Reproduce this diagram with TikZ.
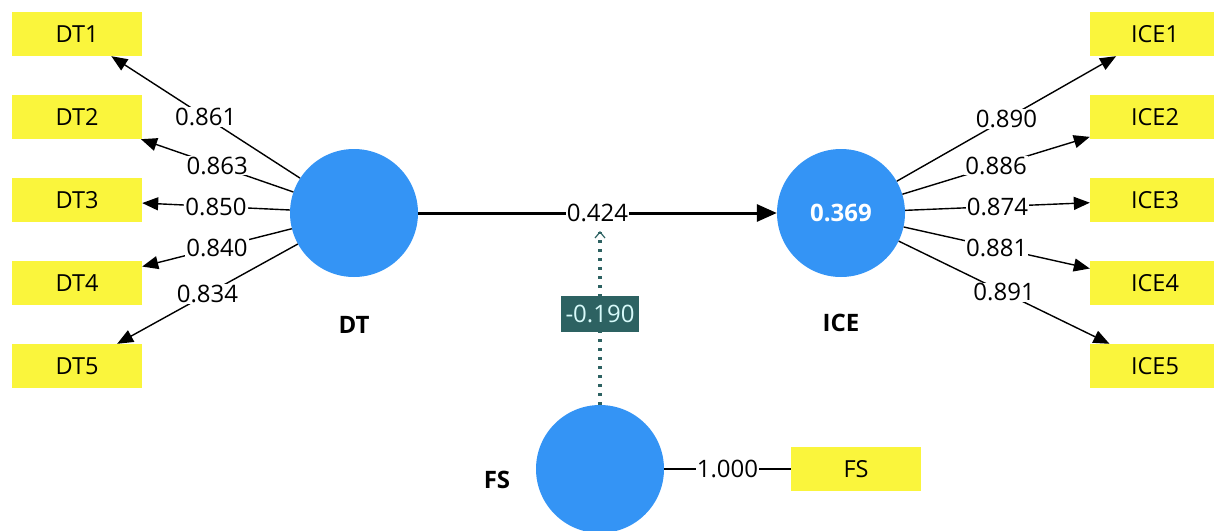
\documentclass[tikz,border=0pt]{standalone}
\usepackage{fontspec}
\setmainfont{Open Sans}
\usetikzlibrary{arrows.meta}
\definecolor{indyellow}{RGB}{250,245,60}
\definecolor{lvblue}{RGB}{52,148,245}
\definecolor{modteal}{RGB}{45,98,98}
\definecolor{modtext}{RGB}{215,250,250}
\begin{document}
\begin{tikzpicture}[x=1pt,y=-1pt,
  ind/.style={fill=indyellow, draw=none, minimum width=130pt, minimum height=44pt, inner sep=0pt, font=\fontsize{23.5}{27}\selectfont},
  lv/.style={circle, fill=lvblue, draw=none, minimum size=128pt, inner sep=0pt},
  lvname/.style={font=\fontsize{24}{28}\selectfont\bfseries},
  load/.style={-{Triangle[length=16pt,width=13pt]}, line width=1.4pt},
  mainpath/.style={-{Triangle[length=20pt,width=17pt]}, line width=3pt},
  plainload/.style={line width=1.4pt},
  val/.style={fill=white, inner sep=1pt, font=\fontsize{24}{28}\selectfont},
  modline/.style={draw=modteal, line width=3.5pt, dash pattern=on 3pt off 6pt},
  modtip/.style={draw=modteal, line width=1.2pt},
  modval/.style={fill=modteal, text=modtext, minimum width=78pt, minimum height=36pt, inner sep=0pt, font=\fontsize{24}{28}\selectfont}
]
\useasboundingbox (0,0) rectangle (1214,530);

% latent variables
\node[lv] (DT) at (354,213) {};
\node[lv] (ICE) at (841,213) {\textcolor{white}{\bfseries\fontsize{24}{28}\selectfont 0.369}};
\node[lv] (FSlv) at (600,469) {};
\node[lvname] (DTlab) at (354,325) {DT};
\node[lvname] (ICElab) at (841,323) {ICE};
\node[lvname] (FSlab) at (497,480) {FS};

% indicators
\node[ind] (DT1) at (77,34) {DT1};
\node[ind] (DT2) at (77,117) {DT2};
\node[ind] (DT3) at (77,200) {DT3};
\node[ind] (DT4) at (77,283) {DT4};
\node[ind] (DT5) at (77,366) {DT5};
\node[ind] (ICE1) at (1155,34) {ICE1};
\node[ind] (ICE2) at (1155,117) {ICE2};
\node[ind] (ICE3) at (1155,200) {ICE3};
\node[ind] (ICE4) at (1155,283) {ICE4};
\node[ind] (ICE5) at (1155,366) {ICE5};
\node[ind] (FS) at (856,469) {FS};

% loadings
\draw[load] (DT) -- (DT1) node[val,pos=0.5] {0.861};
\draw[load] (DT) -- (DT2) node[val,pos=0.5] {0.863};
\draw[load] (DT) -- (DT3) node[val,pos=0.5] {0.850};
\draw[load] (DT) -- (DT4) node[val,pos=0.5] {0.840};
\draw[load] (DT) -- (DT5) node[val,pos=0.5] {0.834};
\draw[load] (ICE) -- (ICE1) node[val,pos=0.5] {0.890};
\draw[load] (ICE) -- (ICE2) node[val,pos=0.5] {0.886};
\draw[load] (ICE) -- (ICE3) node[val,pos=0.5] {0.874};
\draw[load] (ICE) -- (ICE4) node[val,pos=0.5] {0.881};
\draw[load] (ICE) -- (ICE5) node[val,pos=0.5] {0.891};
\draw[plainload] (FSlv) -- (FS) node[val,pos=0.5] {1.000};

% structural path
\draw[mainpath] (DT) -- (ICE) node[val,pos=0.5] (pathval) {0.424};

% moderation
\coordinate (modpt) at (600,232);
\path[modline] (FSlv.north) -- (modpt) node[modval,pos=0.526] (modlab) {-0.190};
\draw[modtip] ([xshift=-5pt,yshift=-6pt]modpt) -- (modpt) -- ([xshift=5pt,yshift=-6pt]modpt);
\end{tikzpicture}
\end{document}
